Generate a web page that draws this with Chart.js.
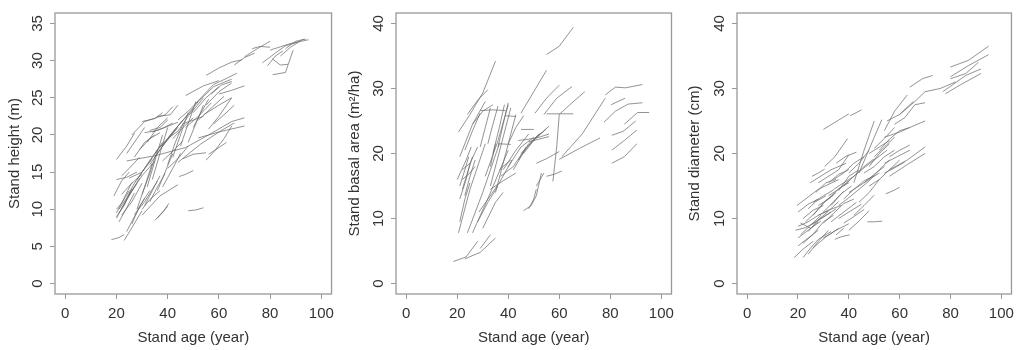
<!DOCTYPE html>
<html>
<head>
<meta charset="utf-8">
<script src="https://cdn.jsdelivr.net/npm/chart.js@4.4.1/dist/chart.umd.min.js"></script>
<style>
  html, body { margin: 0; padding: 0; background: #fff; }
  .panel { position: absolute; top: 0; width: 340px; height: 350px; }
</style>
</head>
<body>
<div class="panel" style="left:0px"><canvas id="heightChart" width="340" height="350"></canvas></div>
<div class="panel" style="left:340px"><canvas id="basalChart" width="340" height="350"></canvas></div>
<div class="panel" style="left:680px"><canvas id="diameterChart" width="340" height="350"></canvas></div>
<script>
// ===== Data (each line = one stand: age, value, age, value, ...) =====

const ageTicks = [0, 20, 40, 60, 80, 100];
const heightTicks = [0, 5, 10, 15, 20, 25, 30, 35];
const basalTicks = [0, 10, 20, 30, 40];
const diameterTicks = [0, 10, 20, 30, 40];

const heightLines = [
  [18,5.9, 21,6.2, 23,6.6],
  [23,5.8, 26,7.5, 30,9.8],
  [24,7, 27,9, 31,11.5],
  [26,8, 29,10.4, 33,12.5],
  [27,9.3, 31,11, 36,13.8],
  [30,10, 33,11.3, 37,12.5],
  [35,8.5, 38,9.6, 40,10.4],
  [36,8.8, 38.5,9.8, 40.5,10.8],
  [30,9.2, 37,11.8, 44,13.3],
  [48,9.8, 51,9.9, 54,10.2],
  [44.5,14.4, 47,14.7, 50,15.2],
  [20,9, 23,10.5, 26,12.8],
  [20,8.8, 24,11.4, 28,13.5],
  [21,9.5, 25,11.8, 29,14.2],
  [20,10, 22,10.8, 25,12.5],
  [21,8.3, 24,10.2, 27,12.2],
  [22,9.2, 26,11, 30,13.5],
  [20,9.5, 23,11.5, 26,13.6],
  [21,10, 24,11.5, 27,13.5, 30,15],
  [19,11.8, 22,13.8, 25,15],
  [20,14, 24,14.3, 28,15],
  [22,14.5, 25,15.5, 29,17],
  [22,12, 26,13.5, 30,14.7],
  [25,14.2, 30,15, 34,16.8],
  [20,16.7, 24,18.5, 27,20.2],
  [24,17.5, 28,19.5, 31,21],
  [27,17, 31,19, 35,20],
  [29,18, 33,19.5, 37,20.3],
  [32,19, 36,21, 40,22.3],
  [26,20, 31,21.8, 39,22.7, 42,23.8],
  [30,21.8, 35,22.2, 38,23],
  [34,20.4, 38,20.9, 42,21.6],
  [33,20.6, 37,21, 40,22],
  [31,20.3, 36,20.6, 44,21.7],
  [36,22.5, 41,22.7, 44,24],
  [25,12, 30,14.5, 35,16.5],
  [28,14, 33,16.5, 38,19],
  [30,15, 36,18, 42,20.2],
  [33,16, 38,18.5, 44,21],
  [35,17, 41,20, 46,22],
  [38,18.5, 44,21.2, 50,23.5],
  [40,19.5, 46,22, 52,24.5],
  [44,20.5, 48,22.5, 54,25],
  [28,10, 31,13, 34,16.2],
  [30,12, 33,14.8, 36,18],
  [32,13, 35,16.5, 38,20],
  [34,14, 37,17.5, 40,21],
  [36,12.5, 39,15, 42,17.5],
  [31,10.5, 34,12.5, 37,14.5],
  [33,11, 36,13, 39,14.8],
  [38,13, 42,15.5, 45,17.5],
  [40,16, 43,19, 46,21.5],
  [42,17, 45,20, 48,23],
  [45,18.5, 48,21.5, 51,24.5],
  [48,19, 51,21.5, 54,24],
  [50,21, 53,23, 56,24.8],
  [38,16.5, 42,17.8, 46,19.2],
  [40,15.5, 44,16.8, 48,18.5],
  [36,18, 40,19.5, 44,20.5],
  [42,19.5, 46,21, 50,22.3],
  [46,21.5, 50,22, 54,22.5],
  [24,16.5, 35,17.2, 47,18.3, 56,20, 65,21.8, 70,22.3],
  [44,16.3, 53,18.8, 61,20.6, 66,21.6],
  [52,19.6, 60,20.4, 70,21.2],
  [55,16.6, 58,17.7, 62,19.5, 65,21.2],
  [56,17.4, 60,18.3, 63,19],
  [46,16.8, 50,17.4, 55,17.6],
  [56,20.8, 60,22.5, 65,25],
  [58,21.5, 62,22.7, 66,24],
  [44,22, 49,23.5, 53,25],
  [47,21, 52,22.5, 57,24.3],
  [50,23, 55,25, 60,26.5],
  [52,22, 57,23.6, 62,25.2],
  [55,24, 60,25.8, 65,27],
  [57,25.5, 61,26.7, 65,27.2],
  [54,22.7, 60,24, 65,25],
  [47,25.3, 54,26.6, 60,27.3],
  [51,24.2, 58,26.5, 65,27.5],
  [53,25, 58,26.8, 63,27.6, 67,28.3],
  [60,25.5, 65,26, 70,26.6],
  [55,28, 60,29, 65,29.8, 69,30.1],
  [66,29.4, 70,30.4, 74,31],
  [70,30.5, 75,31.6, 80,32.6],
  [73,31.6, 76,31.9, 80,31.8],
  [80,31.4, 88,32.3, 95,32.8],
  [77,29.7, 82,31, 86,32, 91,32.5],
  [81,28.1, 86,28.4, 89,31.4],
  [81,30.2, 84,29.4, 87,29.5],
  [84,30.6, 88,31.8, 93,32.9],
  [79,29.3, 82,30.6, 85,31.3],
  [86,31.6, 90,32.6, 94,32.9]
];

const basalLines = [
  [18.5,3.4, 23.5,4.1, 28,6.5],
  [23,3.8, 29,4.8, 35,7],
  [29,5.4, 33,7.5],
  [20.5,7.8, 25,14.5, 31,21.5],
  [24,7.8, 30,14, 36.5,21.5],
  [26,7.8, 32.5,13.5, 40,20.5],
  [28,9.5, 32,12.5, 36,15],
  [28.5,11, 36.5,15.5, 41.5,19],
  [30,8.5, 35,12.5, 38,14],
  [20,16, 23.5,19, 25.5,21],
  [20.5,23.3, 25,26, 30,29.3, 35,34.2],
  [24,26, 28,28.2, 32,29.8],
  [21,19.5, 26,24.5, 31,28],
  [26,24.5, 30,26.5, 34,27.5],
  [29,26.6, 34,26.7, 39,26.6],
  [39,25.8, 43,25.7],
  [36,21.5, 41,21.4],
  [31,16.5, 36,22, 40,27.5],
  [33,15, 37,21, 41,27],
  [35,14, 39,20, 43,26],
  [29,21, 31,24, 33,27],
  [32,21.5, 34,24.5, 36,27.3],
  [34,20, 36.5,24, 38.5,27.5],
  [36,21, 38,24.5, 40,27.8],
  [33,18, 35,21.5],
  [21,13, 23.5,16, 25,18.5],
  [22,14.5, 24,17, 26,19.5],
  [23,13.5, 25,16.5, 27,19],
  [21,15, 23,17.5, 24.5,19.5],
  [22,16, 25,17, 27,18],
  [22,17.5, 25,18.5, 28,21],
  [23,20.5, 26,23.5, 29,26.2],
  [21,9.5, 23,13, 25,15.5],
  [33,14.5, 38,15.8, 43,17],
  [37,16.5, 42,18, 47,21],
  [36.5,17.5, 41,19],
  [38,17.5, 43,20.5, 48,23],
  [40,18, 45,21, 50,22.5],
  [40,21.5, 43,24, 46,25.8],
  [42,17.5, 47,20.8, 52,23],
  [44,19, 48,21.5, 53,23.2],
  [45,20, 50,22, 55,23.8],
  [46,20, 51,22.5, 56,24.2],
  [45,23.7, 50,23.7],
  [44,22, 48,22.2, 52,22.5, 56,23],
  [48,21.8, 52,22.2, 56,22.6],
  [45,26.2, 50,29.5, 55,32.8],
  [50.5,26.2, 55,28.5, 60,30.5],
  [54,26, 59,28.5, 65,30.3],
  [55,26.1, 60,26.1, 65.5,26.1],
  [57.5,15.7, 59,21, 60,26],
  [55,35.2, 60,36.5, 65.5,39.4],
  [60,26, 65,27.8, 70,29.5],
  [61,19.5, 69,23, 78,28.5],
  [60,19.1, 68,20.8, 76,22.4],
  [51,18.5, 55,19.2, 60,20.3],
  [55,16.5, 58,16.8, 61,17.3],
  [46,11.2, 49,12, 51,13.5, 53,17],
  [48,11.5, 50,13, 51,14.5],
  [51,15, 54,17],
  [78,29, 82,30.2, 86,30.1, 92.6,30.6],
  [80.3,27.5, 85.8,28.5],
  [77.5,24.8, 82,26.5, 87,27.6, 92.6,27.8],
  [85.5,24.5, 90.7,26.3, 95.2,26.3],
  [80.6,22.8, 85,23.4, 90,25],
  [80.6,20.5, 85.5,22, 90.4,23.6],
  [80.6,18.5, 85.5,19.5, 90.4,21.5]
];

const diameterLines = [
  [18.5,4, 22,5.3, 26,6.5],
  [22,4, 25,5.5, 28,6.8, 33,8],
  [24,4.5, 28,6.5, 32,8.2],
  [26,5.5, 31,7.2, 36,8.5],
  [30,7, 35,8.2, 40,9.2],
  [34.5,6.8, 37,7.2, 40.3,7.5],
  [35,7.5, 38,8.5],
  [20,5.8, 24,7, 28,8.2],
  [20,7, 24,8.2, 28,9.5],
  [19,8.2, 23,8.6, 27,9.5],
  [21,7.5, 25,9, 29,10.5],
  [20,8.8, 24,9.5, 28,10.5, 32,11.2],
  [21,9.3, 25,8.5, 29,9.6],
  [22,10, 26,11.3, 30,12],
  [22,6.2, 26,7.6, 30,9.5, 34,10.5],
  [24,8, 28,9.8, 33,11],
  [25,9, 30,10.2, 35,11.5],
  [23,9.5, 27,11, 31,12.8, 35,14],
  [27,9.5, 31,10.8, 36,12.6],
  [28,10.5, 32,11.3, 37,12],
  [26,10.5, 30,12.4, 34,13.6],
  [30,9.3, 34,10.8, 38,12.3, 42,13],
  [30,11, 34,12.6, 38,14.2],
  [33,9.5, 38,11, 43,12.5],
  [36,10, 40,11, 45,12.2],
  [36,12, 40,13.2, 44,14.5],
  [38,9.3, 42,10.3, 46,11.4],
  [40,8.2, 44,9.6, 48,11.2],
  [42,10.5, 46,12, 50,13.6],
  [44,12.5, 48,14, 52,16],
  [47.3,9.5, 50,9.5, 53.2,9.6],
  [19.6,12, 28,14.5, 36,16],
  [20,11, 24,12.2, 28,13],
  [24,11.5, 27,12.6, 31,13.5],
  [26,12.5, 30,13.5, 34,14.4],
  [28,12, 32,13, 36,14.6, 40,15.5],
  [27,14, 31,15.5, 35,16],
  [25.5,16.5, 28,17, 30.5,17.6],
  [28,15.5, 36,17.5, 40,19.8],
  [24.8,15.5, 33,17.5, 39,18.5],
  [32,15.5, 36,16.8, 40,17.5],
  [30.5,18, 34.5,19.5, 39.5,22.3],
  [35,18.5, 39,19.6, 43,20.2],
  [30,23.7, 35,24.9, 40,26.1],
  [40.5,25.8, 45,26.7],
  [32,13.5, 36,14.5, 40,15.8],
  [33,12, 37,13.8, 41,15],
  [34,14.5, 38,15.5, 42,16.5],
  [34,16, 38,17, 42,18.5, 46,19.5],
  [36,14.3, 40,16.5, 44,17.5],
  [38,13, 42,14.5, 46,15.8, 50,16.6],
  [38,15, 42,16.5, 46,18, 50,19.2],
  [40,14, 44,15, 48,16, 52,17],
  [40,17, 44,18.5, 48,20.5],
  [42,15.5, 46,20.5, 50,25],
  [44,17, 50,22.5, 53,25.2],
  [42,16.5, 46,17.8, 50,19, 55,20.5],
  [44,14.5, 48,15.8, 52,17.5, 56,19],
  [46,15.5, 50,16.8, 54,18],
  [46,17, 50,18, 54,19.5, 58,20.5],
  [48,15, 52,16, 56,17.5, 60,19],
  [48,18, 52,20, 56,21.5],
  [50,19.5, 54,21, 58,22.5],
  [52,20.5, 56,22.2, 60,23.5, 64,24],
  [54.5,13.8, 57,14.2, 60,14.8],
  [54,17, 58,17.8, 62,18.7],
  [54,18.5, 59,19.5, 64,20.5],
  [56,17.5, 63,19, 70,21],
  [56,16.5, 63,18.3, 70,20],
  [56,19.5, 60,20.5, 64,21.3],
  [54,22.5, 60,23.3, 64,24, 70,25],
  [54,23.5, 58,26.5, 63,29],
  [55,25, 60,26, 65.4,28],
  [58,24.5, 62,25.5, 66,27.5, 70,27.8],
  [60,26, 66,28, 70,29.5, 76,30, 82,31],
  [64,30.2, 69,31.5, 73,32],
  [50,20.8, 54,22.3, 58,24],
  [48,20, 52,21, 56,22],
  [80,33.3, 87,34.3, 95,36.5],
  [80,31.8, 87,33.5, 95,35.2],
  [77,29.5, 86,32, 92,33],
  [78,29.2, 85,30.8, 92,32.3],
  [80,31.5, 86,32.3, 91,34]
];

// ===== Helpers =====

const FONT = "'Liberation Sans', Arial, sans-serif";
const TEXT_COLOR = "#333";
const AXIS_COLOR = "#999";
const LINE_COLOR = "rgba(105,105,105,0.72)";

function toPoints(flat) {
  const pts = [];
  for (let i = 0; i < flat.length; i += 2) {
    pts.push({ x: flat[i], y: flat[i + 1] });
  }
  return pts;
}

// R-style box around the plot region
const boxPlugin = {
  id: "box",
  afterDatasetsDraw(chart) {
    const { ctx, chartArea: a } = chart;
    ctx.save();
    ctx.strokeStyle = AXIS_COLOR;
    ctx.lineWidth = 1.3;
    ctx.strokeRect(a.left, a.top, a.right - a.left, a.bottom - a.top);
    ctx.restore();
  }
};

function makePanel(canvasId, lines, yTicks, yTop, yTitle, leftWidth) {
  const datasets = lines.map(l => ({
    data: toPoints(l),
    showLine: true,
    borderColor: LINE_COLOR,
    borderWidth: 1,
    pointRadius: 0,
    tension: 0
  }));

  const pad = yTop * 0.04;

  new Chart(document.getElementById(canvasId), {
    type: "scatter",
    data: { datasets },
    options: {
      responsive: false,
      animation: false,
      events: [],
      layout: { padding: { top: 5, right: 5, left: 0, bottom: 0 } },
      plugins: { legend: { display: false }, tooltip: { enabled: false } },
      scales: {
        x: {
          type: "linear",
          min: -4,
          max: 104,
          afterBuildTicks: s => { s.ticks = ageTicks.map(v => ({ value: v })); },
          afterFit: s => { s.height = 56; },
          grid: { drawOnChartArea: false, drawTicks: true, tickLength: 5, color: AXIS_COLOR },
          border: { display: false },
          ticks: { font: { family: FONT, size: 15 }, color: TEXT_COLOR, padding: 6, maxRotation: 0 },
          title: {
            display: true,
            text: "Stand age (year)",
            font: { family: FONT, size: 15 },
            color: TEXT_COLOR,
            padding: { top: 0, bottom: 3 }
          }
        },
        y: {
          type: "linear",
          min: -pad,
          max: yTop + pad,
          afterBuildTicks: s => { s.ticks = yTicks.map(v => ({ value: v })); },
          afterFit: s => { s.width = leftWidth; },
          grid: { drawOnChartArea: false, drawTicks: true, tickLength: 5, color: AXIS_COLOR },
          border: { display: false },
          ticks: {
            font: { family: FONT, size: 15 },
            color: TEXT_COLOR,
            minRotation: 90,
            maxRotation: 90,
            crossAlign: "center",
            padding: 4
          },
          title: {
            display: true,
            text: yTitle,
            font: { family: FONT, size: 15 },
            color: TEXT_COLOR,
            padding: { top: 6, bottom: 0 }
          }
        }
      }
    },
    plugins: [boxPlugin]
  });
}

// ===== Initialize =====

makePanel("heightChart", heightLines, heightTicks, 35, "Stand height (m)", 55);
makePanel("basalChart", basalLines, basalTicks, 40, "Stand basal area (m²/ha)", 56);
makePanel("diameterChart", diameterLines, diameterTicks, 40, "Stand diameter (cm)", 57);
</script>
</body>
</html>
